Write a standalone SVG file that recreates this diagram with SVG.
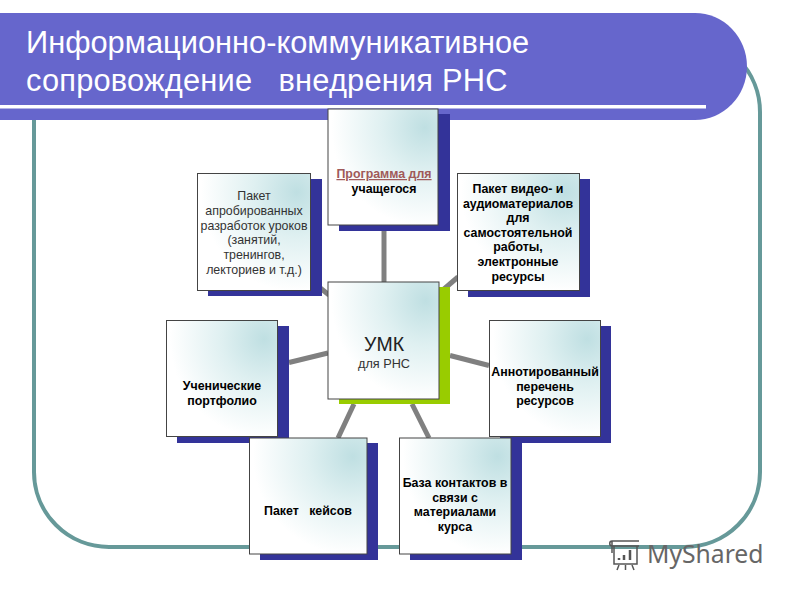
<svg xmlns="http://www.w3.org/2000/svg" width="800" height="600" viewBox="0 0 800 600">
<style>
text{font-family:"Liberation Sans",Arial,sans-serif;text-anchor:middle;fill:#000}
.b{font-size:12.400px;font-weight:bold}
.r{font-size:12.400px;fill:#333}
.title{font-size:30.800px;fill:#fff;text-anchor:start}
.card{fill:url(#g);stroke:#444;stroke-width:1}
.sh{fill:#333399}
.c{stroke:#808080;stroke-width:5;fill:none}
</style>
<defs>
<radialGradient id="g" cx="0.88" cy="0.16" r="0.85">
<stop offset="0" stop-color="#bfdfe2"/>
<stop offset="0.45" stop-color="#dff0f1"/>
<stop offset="1" stop-color="#fff"/>
</radialGradient>
</defs>
<rect width="800" height="600" fill="#fff"/>
<rect id="frame" x="34" y="37" width="726" height="510" rx="75" fill="none" stroke="#669999" stroke-width="4"/>
<g id="header">
<path d="M0 13H695A52 53.500 0 0 1 695 120H0Z" fill="#6666cc"/>
<rect x="0" y="105" width="706" height="3.500" fill="#fff"/>
<text class="title" x="26" y="53">Информационно-коммуникативное</text>
<text class="title" x="26" y="91" xml:space="preserve" style="letter-spacing:.2px">сопровождение   внедрения РНС</text>
</g>
<g id="connectors">
<line class="c" x1="384" y1="225" x2="384" y2="282"/>
<line class="c" x1="444" y1="289" x2="458" y2="277"/>
<line class="c" x1="319" y1="287" x2="329" y2="295"/>
<line class="c" x1="289" y1="362.500" x2="328" y2="353"/>
<line class="c" x1="450" y1="355.500" x2="489" y2="365.500"/>
<line class="c" x1="354" y1="404" x2="338" y2="438"/>
<line class="c" x1="412" y1="404" x2="429" y2="438"/>
</g>
<g id="node-program">
<rect class="sh" x="339" y="114" width="111" height="117"/>
<rect class="card" x="328" y="109" width="110" height="116"/>
<text class="b" x="384" y="178" style="fill:#a05a5a;text-decoration:underline">Программа для</text>
<text class="b" x="384" y="193">учащегося</text>
</g>
<g id="node-tested">
<rect class="sh" x="208" y="179" width="114" height="117"/>
<rect class="card" x="197.500" y="173.500" width="113" height="117"/>
<text class="r" x="254" y="200">Пакет</text>
<text class="r" x="254" y="215">апробированных</text>
<text class="r" x="254" y="229.500">разработок уроков</text>
<text class="r" x="254" y="244">(занятий,</text>
<text class="r" x="254" y="259">тренингов,</text>
<text class="r" x="254" y="274">лекториев и т.д.)</text>
</g>
<g id="node-video">
<rect class="sh" x="468" y="179" width="122" height="118"/>
<rect class="card" x="457.500" y="173.500" width="122" height="117"/>
<text class="b" x="518" y="193">Пакет видео- и</text>
<text class="b" x="518" y="208">аудиоматериалов</text>
<text class="b" x="518" y="222">для</text>
<text class="b" x="518" y="237">самостоятельной</text>
<text class="b" x="518" y="251">работы,</text>
<text class="b" x="518" y="266">электронные</text>
<text class="b" x="518" y="281">ресурсы</text>
</g>
<g id="node-portfolio">
<rect class="sh" x="177" y="326" width="112" height="117"/>
<rect class="card" x="166.500" y="320.500" width="111" height="116"/>
<text class="b" x="222" y="390">Ученические</text>
<text class="b" x="222" y="405">портфолио</text>
</g>
<g id="node-annotated">
<rect class="sh" x="500" y="326" width="111" height="117"/>
<rect class="card" x="489.500" y="320.500" width="111" height="116"/>
<text class="b" x="545" y="376">Аннотированный</text>
<text class="b" x="545" y="391">перечень</text>
<text class="b" x="545" y="405">ресурсов</text>
</g>
<g id="node-cases">
<rect class="sh" x="260" y="443" width="118" height="117"/>
<rect class="card" x="249.500" y="438" width="117.500" height="116"/>
<text class="b" x="308" y="515" xml:space="preserve">Пакет   кейсов</text>
</g>
<g id="node-contacts">
<rect class="sh" x="410" y="443" width="112" height="117"/>
<rect class="card" x="399.500" y="438" width="111.500" height="116"/>
<text class="b" x="455" y="487">База контактов в</text>
<text class="b" x="455" y="501.500">связи с</text>
<text class="b" x="455" y="516">материалами</text>
<text class="b" x="455" y="531">курса</text>
</g>
<g id="node-center">
<rect x="339" y="287" width="111" height="117" fill="#99cc00"/>
<rect class="card" x="328" y="282" width="111" height="117"/>
<text x="384" y="351" style="font-size:19.500px;fill:#222">УМК</text>
<text x="384" y="368" style="font-size:12.700px;fill:#333">для РНС</text>
</g>
<g id="watermark" fill="none" stroke="#555" stroke-width="1.500">
<path d="M612 541H639M612 541C609 541 609 546 612 546H639M614 546V564H637V546M612 541V553"/>
<path d="M619 565L617 570M625.500 565V570M632 565L634 570"/>
<path d="M619 560V558M624 560V555M630 560V550" stroke-width="2.500"/>
<text x="647" y="563" style="font-family:'Noto Sans',sans-serif;font-size:24.700px;fill:#666;stroke:none;text-anchor:start">MyShared</text>
</g>
</svg>
